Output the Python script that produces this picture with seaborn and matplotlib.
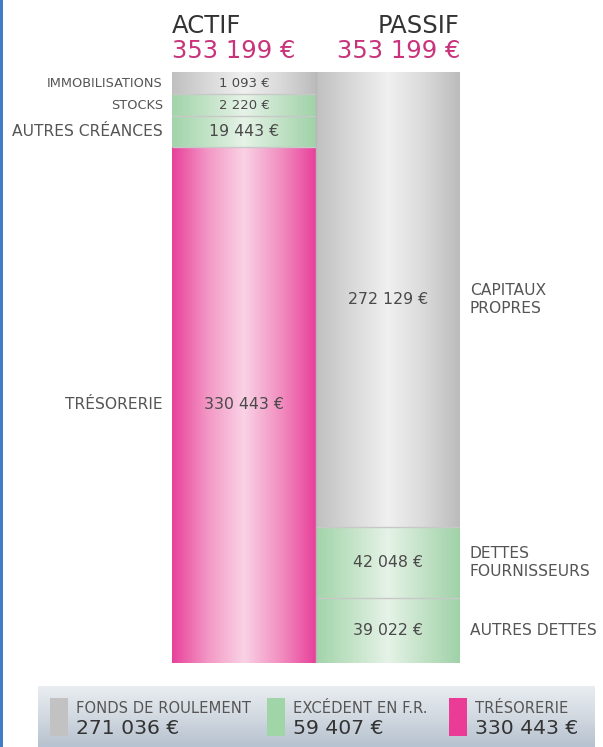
import numpy as np
import matplotlib.pyplot as plt
import seaborn as sns
from matplotlib.patches import Rectangle

# données du bilan
actif_labels = ['IMMOBILISATIONS', 'STOCKS', 'AUTRES CRÉANCES', 'TRÉSORERIE']
actif_values = [1093, 2220, 19443, 330443]
actif_kind = ['gris', 'vert', 'vert', 'rose']
passif_labels = ['CAPITAUX\nPROPRES', 'DETTES\nFOURNISSEURS', 'AUTRES DETTES']
passif_values = [272129, 42048, 39022]
passif_kind = ['gris', 'vert', 'vert']
total_actif = 353199
total_passif = 353199
legende_labels = ['FONDS DE ROULEMENT', 'EXCÉDENT EN F.R.', 'TRÉSORERIE']
legende_values = [271036, 59407, 330443]
legende_kind = ['gris', 'vert', 'rose']

sns.set_theme(style='white')
plt.rcParams['font.family'] = ['DejaVu Sans']

# dégradés horizontaux
cmaps = {
    'gris': sns.blend_palette(['#c0c0c0', '#d9d9d9', '#f0f0f0', '#dadada', '#bcbcbc'], as_cmap=True),
    'vert': sns.blend_palette(['#a2d4aa', '#c3e3c7', '#e6f3e8', '#c2e2c6', '#9fd2a8'], as_cmap=True),
    'rose': sns.blend_palette(['#e8409a', '#f398c5', '#f9d2e5', '#f290c1', '#e8409a'], as_cmap=True),
}
plain = {'gris': '#c2c2c2', 'vert': '#a0d5a8', 'rose': '#ea3c97'}


def euro(v):
    return f'{v:,}'.replace(',', ' ') + ' €'


# petites lignes affichées avec une hauteur minimale
min_part = 0.04


def display_heights(values, total):
    h = np.maximum(np.array(values) / total, min_part)
    return h / h.sum()


fig = plt.figure(figsize=(6.03, 7.47), dpi=100)
fig.patch.set_facecolor('white')
ax = fig.add_axes([172 / 603, 1 - 663 / 747, 288 / 603, 591 / 747])
ax.set_axis_off()

grad = np.linspace(0, 1, 256).reshape(1, -1)
columns = [(0, actif_labels, actif_values, actif_kind, total_actif, 'left'),
           (1, passif_labels, passif_values, passif_kind, total_passif, 'right')]

for xpos, labels, values, kinds, total, side in columns:
    heights = display_heights(values, total)
    bottoms = np.concatenate([[0], np.cumsum(heights)[:-1]])
    bars = ax.bar([xpos] * len(values), heights, bottom=bottoms, width=1.0,
                  color='none', edgecolor='none')
    for bar, lab, v, k in zip(bars, labels, values, kinds):
        x0, y0 = bar.get_x(), bar.get_y()
        w, h = bar.get_width(), bar.get_height()
        im = ax.imshow(grad, cmap=cmaps[k], aspect='auto', extent=[x0, x0 + w, y0 + h, y0],
                       zorder=1)
        im.set_clip_path(bar)
        yc = y0 + h / 2
        small = h < 0.045
        ax.text(xpos, yc, euro(v), ha='center', va='center',
                fontsize=9.5 if small else 11.3, color='#4a4a4a', zorder=3)
        if side == 'left':
            ax.annotate(lab, xy=(x0, yc), xytext=(-6.5, 0), textcoords='offset points',
                        ha='right', va='center', fontsize=9.3 if small else 11.2,
                        color='#555555')
        else:
            ax.annotate(lab, xy=(x0 + w, yc), xytext=(7, 0), textcoords='offset points',
                        ha='left', va='center', fontsize=11.2, color='#555555',
                        linespacing=1.3)
    # séparateurs
    for b in bottoms[1:]:
        ax.hlines(b, xpos - 0.5, xpos + 0.5, color='#c8c8c8', lw=1, zorder=2)

ax.axvline(0.5, color='#b8b8b8', lw=1, zorder=2)
ax.set_xlim(-0.5, 1.5)
ax.set_ylim(1, 0)

# en-têtes
ax.annotate('ACTIF', xy=(-0.5, 0), xytext=(0, 28), textcoords='offset points',
            ha='left', va='baseline', fontsize=17.5, color='#333333')
ax.annotate(euro(total_actif), xy=(-0.5, 0), xytext=(0, 10), textcoords='offset points',
            ha='left', va='baseline', fontsize=17.5, color='#c8337b')
ax.annotate('PASSIF', xy=(1.5, 0), xytext=(0, 28), textcoords='offset points',
            ha='right', va='baseline', fontsize=17.5, color='#333333')
ax.annotate(euro(total_passif), xy=(1.5, 0), xytext=(0, 10), textcoords='offset points',
            ha='right', va='baseline', fontsize=17.5, color='#c8337b')

# bandeau de légende
lax = fig.add_axes([38 / 603, 0, 557 / 603, 61 / 747])
lax.set_axis_off()
lax.imshow(np.linspace(0, 1, 64).reshape(-1, 1),
           cmap=sns.blend_palette(['#e9edf1', '#d2d9e1', '#b6c2cf'], as_cmap=True),
           aspect='auto', extent=[0, 557, 61, 0])
lax.set_xlim(0, 557)
lax.set_ylim(61, 0)
entry_x = [12, 229, 411]
for ex, lab, v, k in zip(entry_x, legende_labels, legende_values, legende_kind):
    lax.add_patch(Rectangle((ex, 12), 18, 38, color=plain[k], lw=0))
    lax.text(ex + 26, 22.5, lab, ha='left', va='center', fontsize=10.6, color='#555555')
    lax.text(ex + 26, 43, euro(v), ha='left', va='center', fontsize=14.7, color='#333333')

# bordure bleue à gauche
fig.add_artist(Rectangle((0, 0), 3 / 603, 1, transform=fig.transFigure,
                         color='#3f7dc9', lw=0))

fig.savefig('out.png', dpi=100)
